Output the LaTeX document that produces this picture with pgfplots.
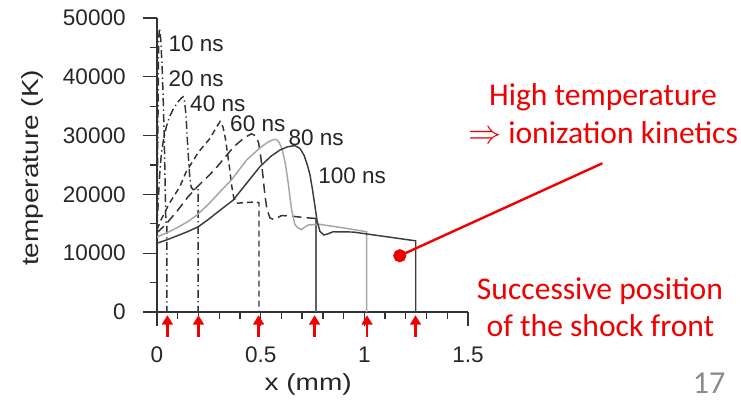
\documentclass[border=0pt]{standalone}
\usepackage{pgfplots}
\pgfplotsset{compat=1.18}
\usepackage{fontspec}
\setmainfont{Liberation Sans}
\newfontfamily\calibri{Carlito}
\usepackage{graphicx}
\usetikzlibrary{arrows.meta}
\definecolor{axgray}{HTML}{333333}
\definecolor{lightc}{HTML}{A6A6A6}
\definecolor{darkc}{HTML}{3C3C3C}
\definecolor{pgnum}{HTML}{8C8C8C}
\definecolor{annred}{HTML}{F00000}

\pgfplotstableread{
x T
0 14000
0.004 30000
0.008 46500
0.012 48300
0.018 46500
0.022 43500
0.026 40500
0.030 36000
0.034 31000
0.037 26000
0.040 20000
0.042 16500
0.045 15000
0.048 14800
0.048 0
}\tenns

\pgfplotstableread{
x T
0 14500
0.005 18000
0.01 21500
0.015 24500
0.02 26500
0.03 29000
0.045 31500
0.06 33200
0.08 34600
0.10 35700
0.118 36400
0.126 36600
0.133 35800
0.140 33500
0.146 29500
0.152 26000
0.158 23000
0.165 21200
0.175 20800
0.19 21000
0.198 21000
0.198 0
}\twentyns

\pgfplotstableread{
x T
0 14000
0.02 15700
0.06 18500
0.11 21300
0.14 23800
0.2 27200
0.255 29500
0.285 31300
0.304 32400
0.318 31500
0.33 29500
0.34 27000
0.35 24500
0.36 21500
0.37 19500
0.385 18500
0.42 18600
0.47 18700
0.492 18600
0.492 0
}\fortyns

\pgfplotstableread{
x T
0 13500
0.04 14800
0.1 17300
0.15 19600
0.2 21500
0.25 23200
0.29 24700
0.33 26400
0.37 28100
0.42 29600
0.455 30300
0.475 30000
0.49 28800
0.5 26500
0.51 23500
0.52 20000
0.53 17500
0.545 16000
0.565 15700
0.6 16400
0.65 16300
0.7 16100
0.766 15900
}\sixtyns

\pgfplotstableread{
x T
0 12750
0.05 13500
0.1 14400
0.15 15400
0.193 16500
0.25 18400
0.3 20300
0.36 22500
0.432 25850
0.496 27900
0.535 28900
0.56 29300
0.577 29350
0.59 28800
0.605 27500
0.62 25000
0.633 21900
0.649 17400
0.665 14900
0.68 14300
0.697 14000
0.715 14500
0.73 14800
0.786 14900
0.9 14300
1.011 13650
1.011 0
}\eightyns

\pgfplotstableread{
x T
0 11700
0.05 12300
0.1 13000
0.15 13700
0.199 14500
0.25 15800
0.3 17200
0.368 19050
0.43 21800
0.496 24700
0.55 26500
0.593 27550
0.63 28100
0.665 28300
0.69 27800
0.71 26600
0.725 25000
0.737 23500
0.75 20800
0.761 18200
0.772 15500
0.786 13700
0.805 13100
0.825 13300
0.85 13650
0.946 13600
1.248 12100
1.248 0
}\hundredns

\begin{document}
\begin{tikzpicture}[x=0.75pt,y=0.75pt]
\useasboundingbox (0,0) rectangle (741,401);
\begin{axis}[
  at={(117.75pt,66.75pt)}, anchor=south west,
  scale only axis, width=233.25pt, height=220.5pt,
  xmin=0, xmax=1.5, ymin=0, ymax=50000,
  scaled x ticks=false, scaled y ticks=false,
  axis lines=left, axis line style={-, axgray, line width=1pt},
  tick align=outside, tick style={axgray, line width=1pt},
  major tick length=10.5pt, minor tick length=5pt,
  xtick={0,0.5,1,1.5}, xticklabels={0,0.5,1,1.5},
  minor x tick num=4,
  ytick={0,10000,20000,30000,40000,50000},
  yticklabels={0,10000,20000,30000,40000,50000},
  minor y tick num=1,
  ticklabel style={font=\fontsize{16.9}{20}\selectfont, text=black!85},
  xticklabel style={yshift=-12pt},
  yticklabel style={xshift=-9.5pt},
  xlabel={\scalebox{1.2}[1]{x (mm)}},
  ylabel={\scalebox{1.2}[1]{temperature (K)}},
  label style={font=\fontsize{17.5}{20}\selectfont, text=black!85},
  xlabel style={at={(axis description cs:0.486,-0.248)}, anchor=center},
  ylabel style={at={(axis description cs:-0.399,0.49)}, anchor=center},
  clip=false,
]
\addplot[axgray, line width=1.1pt, dash pattern=on 6pt off 2.5pt on 1pt off 2.5pt] table[x=x,y=T] {\tenns};
\addplot[axgray, line width=1.1pt, dash pattern=on 6pt off 2.5pt on 1pt off 2.5pt] table[x=x,y=T] {\twentyns};
\addplot[axgray, line width=1.1pt, dash pattern=on 4.5pt off 3pt] table[x=x,y=T] {\fortyns};
\addplot[axgray, line width=1.1pt, dash pattern=on 7pt off 4pt] table[x=x,y=T] {\sixtyns};
\addplot[darkc!80, line width=1.1pt] coordinates {(0.766,15900) (0.766,0)};
\addplot[lightc, line width=1.1pt] table[x=x,y=T] {\eightyns};
\addplot[darkc, line width=1.1pt] table[x=x,y=T] {\hundredns};
% shock front arrows
\addplot[annred, line width=2pt, -{Triangle[width=8pt,length=7pt]}, quiver={u=0,v=3700}, mark=none]
  coordinates {(0.05,-4250) (0.2,-4250) (0.49,-4250) (0.76,-4250) (1.013,-4250) (1.247,-4250)};
% annotation line with dot
\addplot[annred, line width=1.8pt, mark=*, mark size=4pt, mark indices={1}, mark options={solid, fill=annred}]
  coordinates {(1.171,9575) (2.148,25290)};
\node[anchor=base west, font=\fontsize{16.9}{20}\selectfont, text=black!85, inner sep=0pt] at (axis cs:0.0545,44270) {10 ns};
\node[anchor=base west, font=\fontsize{16.9}{20}\selectfont, text=black!85, inner sep=0pt] at (axis cs:0.0545,38435) {20 ns};
\node[anchor=base west, font=\fontsize{16.9}{20}\selectfont, text=black!85, inner sep=0pt] at (axis cs:0.159,34065) {40 ns};
\node[anchor=base west, font=\fontsize{16.9}{20}\selectfont, text=black!85, inner sep=0pt] at (axis cs:0.352,30660) {60 ns};
\node[anchor=base west, font=\fontsize{16.9}{20}\selectfont, text=black!85, inner sep=0pt] at (axis cs:0.633,28400) {80 ns};
\node[anchor=base west, font=\fontsize{16.9}{20}\selectfont, text=black!85, inner sep=0pt] at (axis cs:0.777,21890) {100 ns};
\end{axis}
\node[anchor=base, text=annred, font=\calibri\fontsize{23.7}{27}\selectfont, inner sep=0pt] at (603,296) {High temperature};
\node[anchor=base, text=annred, font=\calibri\fontsize{23.7}{27}\selectfont, inner sep=0pt] at (603,257.7) {$\Rightarrow$ ionization kinetics};
\node[anchor=base, text=annred, font=\calibri\fontsize{23.7}{27}\selectfont, inner sep=0pt] at (600,101.7) {Successive position};
\node[anchor=base, text=annred, font=\calibri\fontsize{23.7}{27}\selectfont, inner sep=0pt] at (600.5,64.3) {of the shock front};
\node[anchor=base, text=pgnum, font=\calibri\fontsize{24}{28}\selectfont, inner sep=0pt] at (709,8) {17};
\end{tikzpicture}
\end{document}
